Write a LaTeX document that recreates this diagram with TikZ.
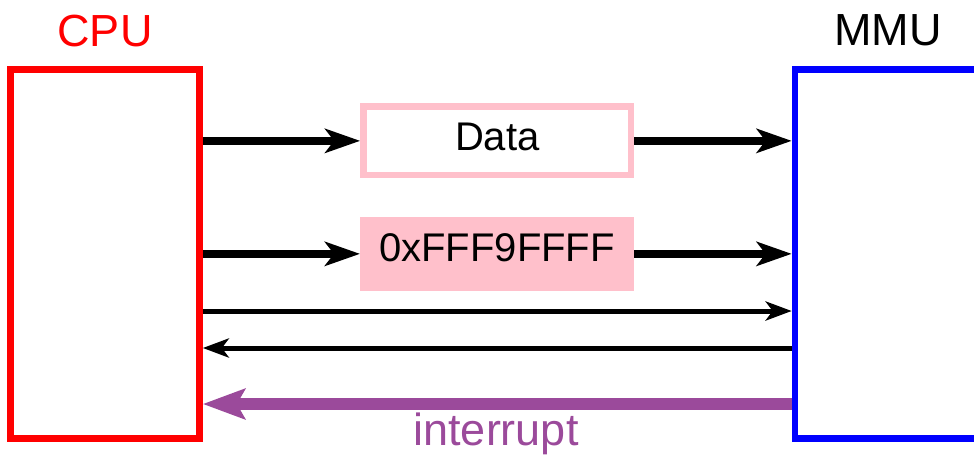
\documentclass[tikz,border=0pt]{standalone}
\usepackage{fontspec}
\setmainfont{Liberation Sans}
\usetikzlibrary{arrows.meta}
\definecolor{pinkc}{RGB}{255,192,203}
\definecolor{purplec}{RGB}{155,74,155}
\tikzset{
  unitbox/.style={rectangle, inner sep=0pt, line width=6.6pt},
  lbl/.style={anchor=base, inner sep=0pt, font=\fontsize{45}{54}\selectfont},
  boxtext/.style={inner sep=0pt, font=\fontsize{40}{48}\selectfont},
  bigarrow/.style={line width=8pt, -{Stealth[length=35pt, width=24pt, inset=9pt]}},
  thinarrow/.style={line width=5pt, -{Stealth[length=26pt, width=19pt, inset=7pt]}},
  intarrow/.style={purplec, line width=12pt, -{Stealth[length=42pt, width=30pt, inset=8pt]}}
}
\begin{document}
\begin{tikzpicture}[x=1pt, y=-1pt]
\useasboundingbox (0,0) rectangle (974,458);
% main units
\node[unitbox, draw=red, minimum width=189pt, minimum height=369pt] (cpu) at (105,254) {};
\node[unitbox, draw=blue, minimum width=305pt, minimum height=369pt] (mmu) at (947.5,254) {};
\node[lbl, text=red] (cpulbl) at (105,46) {CPU};
\node[lbl, text=black] (mmulbl) at (888,45) {MMU};
% data box
\node[boxtext, draw=pinkc, line width=6.7pt, minimum width=267.5pt, minimum height=68.3pt,
      text height=28.3pt, text depth=10pt] (data) at (497.25,140.85) {Data};
% address box
\node[boxtext, fill=pinkc, outer sep=0pt, minimum width=274pt, minimum height=74.3pt,
      text height=28.4pt, text depth=12.7pt] (addr) at (497,253.85) {0xFFF9FFFF};
% rows for plain signals
\coordinate (row3) at (500,311);
\coordinate (row4) at (500,348);
\coordinate (row5) at (500,404);
% connectors
\draw[bigarrow] (cpu.east |- data.west) -- (data.west);
\draw[bigarrow] (data.east) -- (mmu.west |- data.east);
\draw[bigarrow] (cpu.east |- addr.west) -- (addr.west);
\draw[bigarrow] (addr.east) -- (mmu.west |- addr.east);
\draw[thinarrow] (cpu.east |- row3) -- (mmu.west |- row3);
\draw[thinarrow] (mmu.west |- row4) -- (cpu.east |- row4);
\draw[intarrow] (mmu.west |- row5) -- (cpu.east |- row5);
\node[lbl, text=purplec] (intlbl) at (496,445) {interrupt};
\end{tikzpicture}
\end{document}
